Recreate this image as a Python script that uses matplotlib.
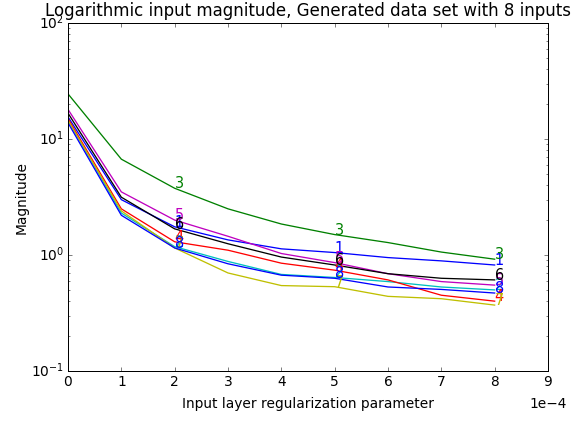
import matplotlib
matplotlib.use("Agg")
import matplotlib.pyplot as plt
import numpy as np

x_vals = [0, 1e-4, 2e-4, 3e-4, 4e-4, 5e-4, 6e-4, 7e-4, 8e-4]
labels = ["1", "2", "3", "4", "5", "6", "7", "8"]
colors = ["b", "c", "g", "r", "m", "k", "y", "b"]

s1 = [15.5, 3.0, 1.75, 1.35, 1.13, 1.05, 0.95, 0.89, 0.82]
s2 = [14.5, 2.3, 1.18, 0.88, 0.68, 0.64, 0.59, 0.53, 0.50]
s3 = [24.5, 6.7, 3.76, 2.5, 1.85, 1.5, 1.28, 1.06, 0.92]
s4 = [15.0, 2.5, 1.30, 1.10, 0.85, 0.74, 0.61, 0.45, 0.40]
s5 = [18.0, 3.5, 2.0, 1.45, 1.03, 0.86, 0.69, 0.59, 0.55]
s6 = [16.7, 3.15, 1.68, 1.25, 0.96, 0.82, 0.69, 0.63, 0.61]
s7 = [14.5, 2.4, 1.15, 0.70, 0.545, 0.533, 0.44, 0.42, 0.37]
s8 = [13.8, 2.2, 1.15, 0.84, 0.67, 0.63, 0.53, 0.505, 0.47]
series = [s1, s2, s3, s4, s5, s6, s7, s8]
label_idx = [2, 5, 8]

plt.style.use("classic")
plt.rcParams["figure.facecolor"] = "white"
plt.rcParams["savefig.facecolor"] = "white"

fig = plt.figure(figsize=(579 / 72, 421 / 72), dpi=72)
ax = fig.add_axes([68 / 579, 50 / 421, 480 / 579, 348 / 421])

for lab, col, ys in zip(labels, colors, series):
    ax.plot(x_vals, ys, color=col, linewidth=1.3)
    for i in label_idx:
        ax.text(x_vals[i], ys[i], lab, color=col, fontsize=14.5)

ax.set_yscale("log")
ax.set_ylim(0.1, 100)
ax.set_xlim(0, 9e-4)
ax.ticklabel_format(axis="x", style="sci", scilimits=(0, 0))
ax.set_xlabel("Input layer regularization parameter", fontsize=13.8, labelpad=8)
ax.set_ylabel("Magnitude", fontsize=13.8, labelpad=2)
ax.set_title("Logarithmic input magnitude, Generated data set with 8 inputs",
             fontsize=16.6, y=1.005)
ax.tick_params(labelsize=13.8)
ax.xaxis.OFFSETTEXTPAD = 8
off = ax.xaxis.get_offset_text()
off.set_fontsize(13.8)
off.set_x(1.04)

fig.savefig("out.png", dpi=72)
